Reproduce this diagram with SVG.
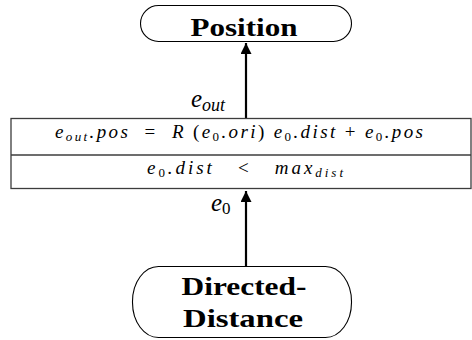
<svg xmlns="http://www.w3.org/2000/svg" width="472" height="340" viewBox="0 0 472 340">
<style>
.node{fill:#fff;stroke:#000;stroke-width:1.1}
.title{font-family:"Liberation Serif","Times New Roman","DejaVu Serif",serif;font-weight:bold;font-size:25px;fill:#000}
.math{font-family:"Liberation Serif","Times New Roman","DejaVu Serif",serif;font-style:italic;font-size:19px;fill:#000}
.lbl{font-family:"Liberation Serif","Times New Roman","DejaVu Serif",serif;font-style:italic;font-size:25px;fill:#000}
.up{font-style:normal}
.box{fill:#fff;stroke:#3c3c3c;stroke-width:1.3}
.conn{stroke:#000;stroke-width:2.2;fill:none}
</style>
<defs>
<marker id="ah" viewBox="0 0 10 10" refX="10" refY="5" markerWidth="5" markerHeight="5" orient="auto" markerUnits="strokeWidth">
<path d="M0,0 L10,5 L0,10 z" fill="#000"/>
</marker>
</defs>
<g id="connectors">
<line class="conn" x1="246" y1="118" x2="246" y2="43" marker-end="url(#ah)"/>
<line class="conn" x1="246" y1="266" x2="246" y2="191" marker-end="url(#ah)"/>
<text class="lbl" x="191" y="107">e<tspan font-size="18" dy="4">out</tspan></text>
<text class="lbl" x="211" y="211">e<tspan class="up" font-size="17" dy="3">0</tspan></text>
</g>
<g id="position">
<rect class="node" x="140.5" y="5.5" width="211" height="36" rx="18" ry="18"/>
<text class="title" x="244" y="36" text-anchor="middle" textLength="107" lengthAdjust="spacingAndGlyphs">Position</text>
</g>
<g id="rule">
<rect class="box" x="11" y="118.5" width="460" height="70"/>
<line class="box" x1="11" y1="155" x2="471" y2="155"/>
<text class="math" x="239" y="138" text-anchor="middle" textLength="368">e<tspan font-size="13" dy="3">out</tspan><tspan dy="-3">.pos</tspan><tspan class="up" xml:space="preserve">  =  </tspan>R<tspan class="up"> (</tspan>e<tspan class="up" font-size="13" dy="3">0</tspan><tspan dy="-3">.ori</tspan><tspan class="up">) </tspan>e<tspan class="up" font-size="13" dy="3">0</tspan><tspan dy="-3">.dist </tspan><tspan class="up">+ </tspan>e<tspan class="up" font-size="13" dy="3">0</tspan><tspan dy="-3">.pos</tspan></text>
<text class="math" x="245" y="174" text-anchor="middle" textLength="196">e<tspan class="up" font-size="13" dy="3">0</tspan><tspan dy="-3">.dist</tspan><tspan class="up" xml:space="preserve">   &lt;   </tspan>max<tspan font-size="13" dy="3">dist</tspan></text>
</g>
<g id="directed-distance">
<rect class="node" x="132.5" y="266.5" width="219" height="71" rx="26" ry="35"/>
<text class="title" x="244" y="295" text-anchor="middle" textLength="125" lengthAdjust="spacingAndGlyphs">Directed-</text>
<text class="title" x="243" y="327" text-anchor="middle" textLength="120" lengthAdjust="spacingAndGlyphs">Distance</text>
</g>
</svg>
